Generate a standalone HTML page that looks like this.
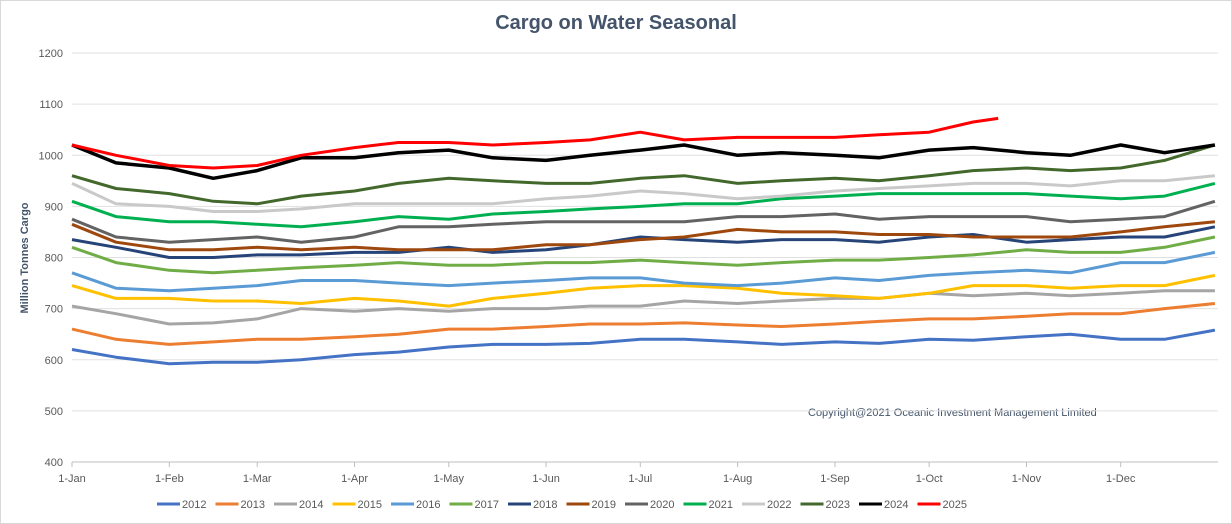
<!DOCTYPE html>
<html><head><meta charset="utf-8"><style>
body{margin:0;background:#fff;}
svg{display:block;font-family:"Liberation Sans",sans-serif;}
</style></head><body>
<svg id="chart" width="1232" height="524">
<rect x="0.5" y="0.5" width="1231" height="523" fill="#fff" stroke="#d9d9d9"/>
<text x="616" y="29" text-anchor="middle" font-size="20" font-weight="bold" fill="#44546a">Cargo on Water Seasonal</text>
<text transform="translate(28,258) rotate(-90)" text-anchor="middle" font-size="11" font-weight="bold" fill="#44546a">Million Tonnes Cargo</text>
<text x="808" y="416" font-size="11" fill="#44546a">Copyright@2021 Oceanic Investment Management Limited</text>
<g id="grid"></g><g id="series"></g><g id="axes"></g><g id="legend"></g>
</svg>
<script>
const yTicks=[400,500,600,700,800,900,1000,1100,1200];
const monthLabels=["1-Jan","1-Feb","1-Mar","1-Apr","1-May","1-Jun","1-Jul","1-Aug","1-Sep","1-Oct","1-Nov","1-Dec"];
const monthDays=[0,31,59,90,120,151,181,212,243,273,304,334];
const sampleDays=[0,14,31,45,59,73,90,104,120,134,151,165,181,195,212,226,243,257,273,287,304,318,334,348,364];
const days2025=[0,14,31,45,59,73,90,104,120,134,151,165,181,195,212,226,243,257,273,287,295];
const years=["2012","2013","2014","2015","2016","2017","2018","2019","2020","2021","2022","2023","2024","2025"];
const colors=["#4472c4","#ed7d31","#a5a5a5","#ffc000","#5b9bd5","#70ad47","#264478","#9e480e","#636363","#00b050","#c9c9c9","#43682b","#000000","#ff0000"];
const v2012=[620,605,592,595,595,600,610,615,625,630,630,632,640,640,635,630,635,632,640,638,645,650,640,640,658];
const v2013=[660,640,630,635,640,640,645,650,660,660,665,670,670,672,668,665,670,675,680,680,685,690,690,700,710];
const v2014=[705,690,670,672,680,700,695,700,695,700,700,705,705,715,710,715,720,720,730,725,730,725,730,735,735];
const v2015=[745,720,720,715,715,710,720,715,705,720,730,740,745,745,740,730,725,720,730,745,745,740,745,745,765];
const v2016=[770,740,735,740,745,755,755,750,745,750,755,760,760,750,745,750,760,755,765,770,775,770,790,790,810];
const v2017=[820,790,775,770,775,780,785,790,785,785,790,790,795,790,785,790,795,795,800,805,815,810,810,820,840];
const v2018=[835,820,800,800,805,805,810,810,820,810,815,825,840,835,830,835,835,830,840,845,830,835,840,840,860];
const v2019=[865,830,815,815,820,815,820,815,815,815,825,825,835,840,855,850,850,845,845,840,840,840,850,860,870];
const v2020=[875,840,830,835,840,830,840,860,860,865,870,870,870,870,880,880,885,875,880,880,880,870,875,880,910];
const v2021=[910,880,870,870,865,860,870,880,875,885,890,895,900,905,905,915,920,925,925,925,925,920,915,920,945];
const v2022=[945,905,900,890,890,895,905,905,905,905,915,920,930,925,915,920,930,935,940,945,945,940,950,950,960];
const v2023=[960,935,925,910,905,920,930,945,955,950,945,945,955,960,945,950,955,950,960,970,975,970,975,990,1020];
const v2024=[1020,985,975,955,970,995,995,1005,1010,995,990,1000,1010,1020,1000,1005,1000,995,1010,1015,1005,1000,1020,1005,1020];
const v2025=[1020,1000,980,975,980,1000,1015,1025,1025,1020,1025,1030,1045,1030,1035,1035,1035,1040,1045,1065,1072];
const allValues=[v2012,v2013,v2014,v2015,v2016,v2017,v2018,v2019,v2020,v2021,v2022,v2023,v2024,v2025];

const NS="http://www.w3.org/2000/svg";
const X0=72,X1=1218,Y0=462,Y1=53;
const x=d=>X0+d/365*(X1-X0);
const y=v=>Y0-(v-400)/800*(Y0-Y1);
function mk(t,a,p){const e=document.createElementNS(NS,t);for(const k in a)e.setAttribute(k,a[k]);p.appendChild(e);return e;}
const grid=document.getElementById('grid'),axes=document.getElementById('axes'),ser=document.getElementById('series'),leg=document.getElementById('legend');
yTicks.forEach(t=>{
  const l=mk('line',{x1:X0,x2:X1,y1:y(t),y2:y(t),stroke:t===400?'#bfbfbf':'#e0e0e0','stroke-width':1},grid);
  
  
  const tx=mk('text',{x:63,y:y(t)+4,'text-anchor':'end','font-size':11,fill:'#595959'},axes);
  tx.textContent=t;
  
  
});
monthLabels.forEach((m,i)=>{
  const tk=mk('line',{x1:x(monthDays[i]),x2:x(monthDays[i]),y1:Y0,y2:Y0+5,stroke:'#bfbfbf'},axes);
  
  
  const tx=mk('text',{x:x(monthDays[i]),y:482,'text-anchor':'middle','font-size':11,fill:'#595959'},axes);
  tx.textContent=m;
  
  
});
allValues.forEach((vals,i)=>{
  const ds=years[i]==="2025"?days2025:sampleDays;
  const pts=vals.map((v,j)=>x(ds[j]).toFixed(1)+','+y(v).toFixed(1)).join(' ');
  const pl=mk('polyline',{points:pts,fill:'none',stroke:colors[i],'stroke-width':years[i]==="2024"?3.5:3,'stroke-linejoin':'round'},ser);
  
  
  const lx=157+i*58.5;
  const ll=mk('line',{x1:lx,x2:lx+23,y1:504,y2:504,stroke:colors[i],'stroke-width':3},leg);
  
  
  const lt=mk('text',{x:lx+25,y:508,'font-size':11,fill:'#595959'},leg);
  lt.textContent=years[i];
  
  
});
</script>
</body></html>
